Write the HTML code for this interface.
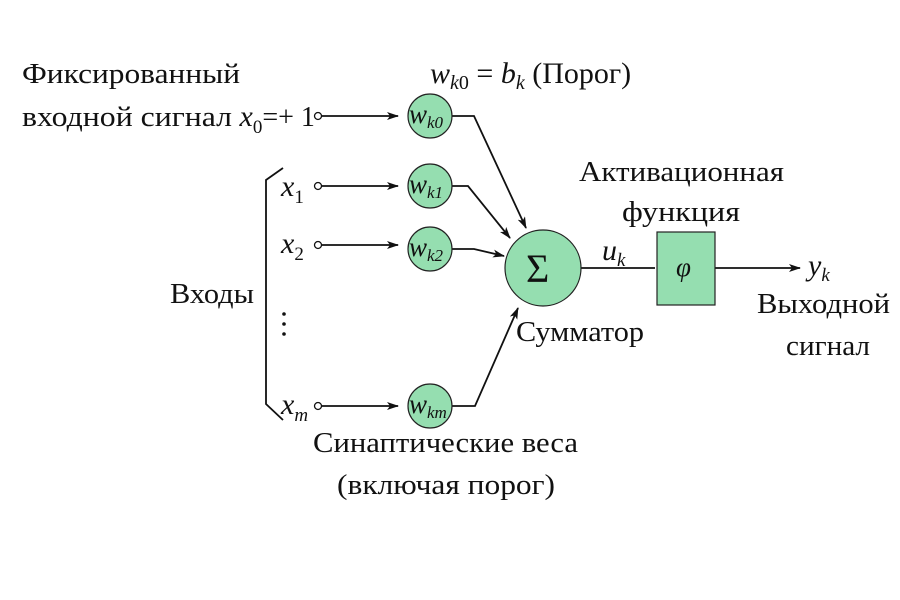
<!DOCTYPE html><html><head><meta charset="utf-8"><style>body{margin:0;background:#fff}svg{display:block}text{font-family:"Liberation Serif",serif;fill:#111}</style></head><body>
<svg width="900" height="600" viewBox="0 0 900 600">
<defs><marker id="a" markerWidth="12" markerHeight="8" refX="11" refY="4" orient="auto" markerUnits="userSpaceOnUse"><path d="M0,0L12,4L0,8L3,4Z" fill="#111"/></marker></defs>
<g stroke="#111" stroke-width="1.8" fill="none">
<path d="M322,116H398" marker-end="url(#a)"/>
<path d="M322,186H398" marker-end="url(#a)"/>
<path d="M322,245H398" marker-end="url(#a)"/>
<path d="M322,406H398" marker-end="url(#a)"/>
<path d="M452,116H474L526,228" marker-end="url(#a)"/>
<path d="M452,186H468L510,238" marker-end="url(#a)"/>
<path d="M452,249H474L504,256" marker-end="url(#a)"/>
<path d="M452,406H475L518,308" marker-end="url(#a)"/>
<path d="M580,268H655" />
<path d="M715,268H800" marker-end="url(#a)"/>
<path d="M283,168L266,180V404L283,420"/>
</g>
<g fill="#fff" stroke="#111" stroke-width="1.3">
<circle cx="318" cy="116" r="3.5"/><circle cx="318" cy="186" r="3.5"/><circle cx="318" cy="245" r="3.5"/><circle cx="318" cy="406" r="3.5"/>
</g>
<g fill="#95deb0" stroke="#222" stroke-width="1.2">
<circle cx="430" cy="116" r="22"/><circle cx="430" cy="186" r="22"/><circle cx="430" cy="249" r="22"/><circle cx="430" cy="406" r="22"/>
<circle cx="543" cy="268" r="38"/>
<rect x="657" y="232" width="58" height="73"/>
</g>
<g font-style="italic">
<text x="409" y="123" font-size="27">w<tspan font-size="17" dy="5">k0</tspan></text>
<text x="409" y="193" font-size="27">w<tspan font-size="17" dy="5">k1</tspan></text>
<text x="409" y="256" font-size="27">w<tspan font-size="17" dy="5">k2</tspan></text>
<text x="409" y="413" font-size="27">w<tspan font-size="17" dy="5">km</tspan></text>
<text x="281" y="196" font-size="30">x<tspan font-size="19" dy="7" font-style="normal">1</tspan></text>
<text x="281" y="253" font-size="30">x<tspan font-size="19" dy="7" font-style="normal">2</tspan></text>
<text x="281" y="414" font-size="30">x<tspan font-size="19" dy="7">m</tspan></text>
<text x="602" y="260" font-size="30">u<tspan font-size="19" dy="6">k</tspan></text>
<text x="808" y="275" font-size="30">y<tspan font-size="19" dy="6">k</tspan></text>
<text x="676" y="276" font-size="27">φ</text>
</g>
<text x="526" y="282" font-size="40">Σ</text>
<text x="430" y="83" font-size="30"><tspan font-style="italic">w</tspan><tspan font-style="italic" font-size="20" dy="6">k</tspan><tspan font-size="20">0</tspan><tspan dy="-6"> = </tspan><tspan font-style="italic">b</tspan><tspan font-style="italic" font-size="20" dy="6">k</tspan><tspan dy="-6"> (Порог)</tspan></text>
<g font-size="28">
<text x="22" y="83" textLength="218" lengthAdjust="spacingAndGlyphs">Фиксированный</text>
<text x="22" y="126"><tspan textLength="210" lengthAdjust="spacingAndGlyphs">входной сигнал</tspan><tspan font-style="italic" font-size="30"> x</tspan><tspan font-size="19" dy="7">0</tspan><tspan dy="-7">=+ 1</tspan></text>
<text x="170" y="303" textLength="84" lengthAdjust="spacingAndGlyphs">Входы</text>
<text x="516" y="341" textLength="128" lengthAdjust="spacingAndGlyphs">Сумматор</text>
<text x="579" y="181" textLength="205" lengthAdjust="spacingAndGlyphs">Активационная</text>
<text x="622" y="221" textLength="118" lengthAdjust="spacingAndGlyphs">функция</text>
<text x="757" y="313" textLength="133" lengthAdjust="spacingAndGlyphs">Выходной</text>
<text x="786" y="355" textLength="84" lengthAdjust="spacingAndGlyphs">сигнал</text>
<text x="313" y="452" textLength="265" lengthAdjust="spacingAndGlyphs">Синаптические веса</text>
<text x="337" y="494" textLength="218" lengthAdjust="spacingAndGlyphs">(включая порог)</text>
</g>
<g fill="#111"><circle cx="284" cy="314" r="1.8"/><circle cx="284" cy="324" r="1.8"/><circle cx="284" cy="334" r="1.8"/></g>
</svg></body></html>
